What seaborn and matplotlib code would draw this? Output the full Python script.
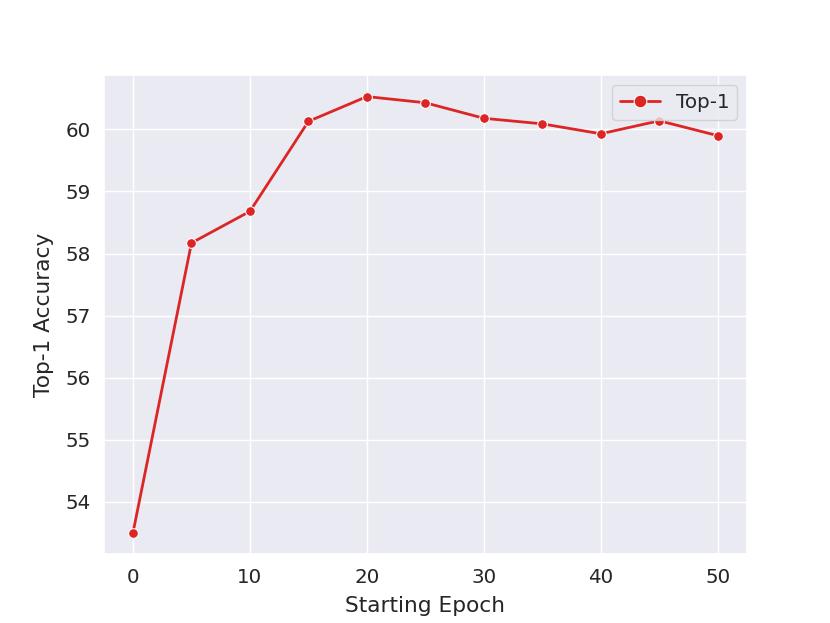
import matplotlib
matplotlib.use('Agg')
import matplotlib.pyplot as plt
import seaborn as sns
import pandas as pd

# Values
epochs = [0, 5, 10, 15, 20, 25, 30, 35, 40, 45, 50]
top1 = [53.5, 58.17, 58.68, 60.13, 60.53, 60.43, 60.18, 60.09, 59.93, 60.14, 59.90]

data = pd.DataFrame({'Starting Epoch': epochs, 'Top-1 Accuracy': top1})

sns.set_theme(style='darkgrid', font_scale=1.3)
fig = plt.figure(figsize=(8.3, 6.23), dpi=100)
ax = sns.lineplot(x='Starting Epoch', y='Top-1 Accuracy', data=data,
                  marker='o', markersize=7, color='#dc2626', label='Top-1',
                  linewidth=2)
ax.set_xticks([0, 10, 20, 30, 40, 50])
ax.set_yticks([54, 55, 56, 57, 58, 59, 60])
ax.set_xlabel('Starting Epoch', labelpad=7)
ax.set_ylabel('Top-1 Accuracy', labelpad=8)
ax.legend(loc='upper right', markerscale=1.3)
plt.savefig('out.png', dpi=100)
